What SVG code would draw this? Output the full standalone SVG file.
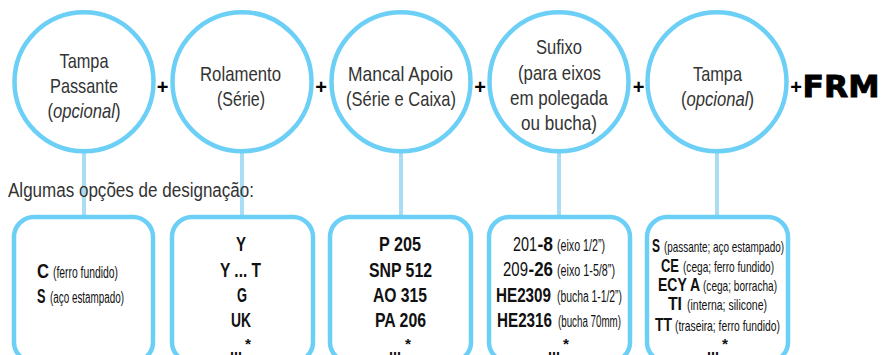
<svg xmlns="http://www.w3.org/2000/svg" width="883" height="355" viewBox="0 0 883 355">
<style>
.c{fill:#fff;stroke:#6CCFF6;stroke-width:4.5}
.ln{stroke:#A9DDF3;stroke-width:4;fill:none}
.t{font-family:"Liberation Sans",Arial,sans-serif;font-size:21px;fill:#333;text-anchor:middle}
.lbl{font-family:"Liberation Sans",Arial,sans-serif;font-size:20px;fill:#333}
.bd{font-family:"Liberation Sans",Arial,sans-serif;font-weight:bold;font-size:20.5px;fill:#111}
.bm{text-anchor:middle}
.b5{font-size:18.5px}
.sm{font-family:"Liberation Sans",Arial,sans-serif;font-size:16px;fill:#111}
.s5{font-size:15px}
.rg{font-family:"Liberation Sans",Arial,sans-serif;font-size:20px;fill:#111}
.ast{font-family:"Liberation Sans",Arial,sans-serif;font-weight:bold;font-size:15px;fill:#111}
.pl{font-family:"Liberation Sans",Arial,sans-serif;font-weight:bold;font-size:20px;fill:#000;text-anchor:middle}
</style>
<g id="connectors">
<line class="ln" x1="84" y1="150" x2="84" y2="218"/>
<line class="ln" x1="242" y1="150" x2="242" y2="218"/>
<line class="ln" x1="401" y1="150" x2="401" y2="218"/>
<line class="ln" x1="559" y1="150" x2="559" y2="218"/>
<line class="ln" x1="717" y1="150" x2="717" y2="218"/>
</g>
<g id="c1"><circle class="c" cx="84" cy="81.7" r="69.5"/>
<text class="t" x="84" y="67.5" textLength="49" lengthAdjust="spacingAndGlyphs">Tampa</text>
<text class="t" x="84" y="93" textLength="68" lengthAdjust="spacingAndGlyphs">Passante</text>
<text class="t" x="84" y="118" textLength="73" lengthAdjust="spacingAndGlyphs">(<tspan font-style="italic">opcional</tspan>)</text>
</g>
<g id="c2"><circle class="c" cx="242" cy="81.7" r="69.5"/>
<text class="t" x="240.5" y="81" textLength="81" lengthAdjust="spacingAndGlyphs">Rolamento</text>
<text class="t" x="241" y="106" textLength="48" lengthAdjust="spacingAndGlyphs">(Série)</text>
</g>
<g id="c3"><circle class="c" cx="401" cy="81.7" r="69.5"/>
<text class="t" x="400.5" y="81" textLength="105" lengthAdjust="spacingAndGlyphs">Mancal Apoio</text>
<text class="t" x="401" y="106" textLength="110" lengthAdjust="spacingAndGlyphs">(Série e Caixa)</text>
</g>
<g id="c4"><circle class="c" cx="559" cy="81.7" r="69.5"/>
<text class="t" x="559" y="54" textLength="46" lengthAdjust="spacingAndGlyphs">Sufixo</text>
<text class="t" x="559.5" y="80" textLength="83" lengthAdjust="spacingAndGlyphs">(para eixos</text>
<text class="t" x="559" y="105" textLength="98" lengthAdjust="spacingAndGlyphs">em polegada</text>
<text class="t" x="559" y="130" textLength="76" lengthAdjust="spacingAndGlyphs">ou bucha)</text>
</g>
<g id="c5"><circle class="c" cx="717" cy="81.7" r="69.5"/>
<text class="t" x="717.5" y="81" textLength="49" lengthAdjust="spacingAndGlyphs">Tampa</text>
<text class="t" x="717.5" y="106" textLength="73" lengthAdjust="spacingAndGlyphs">(<tspan font-style="italic">opcional</tspan>)</text>
</g>
<g id="plus">
<text class="pl" x="162.5" y="94">+</text>
<text class="pl" x="321" y="94">+</text>
<text class="pl" x="480" y="94">+</text>
<text class="pl" x="638.5" y="94">+</text>
<text class="pl" x="796" y="94">+</text>
<text x="802.5" y="97" font-family="'DejaVu Sans',sans-serif" font-weight="bold" font-size="30" fill="#000" stroke="#000" stroke-width="0.9" textLength="77" lengthAdjust="spacingAndGlyphs">FRM</text>
</g>
<text class="lbl" x="8" y="197" textLength="246" lengthAdjust="spacingAndGlyphs">Algumas opções de designação:</text>
<g id="b1"><rect class="c" x="14" y="217" width="139" height="145" rx="20"/>
<text class="bd" x="37" y="278" textLength="12" lengthAdjust="spacingAndGlyphs">C</text>
<text class="sm" x="53" y="278" textLength="65" lengthAdjust="spacingAndGlyphs">(ferro fundido)</text>
<text class="bd" x="37" y="303" textLength="8.5" lengthAdjust="spacingAndGlyphs">S</text>
<text class="sm" x="50" y="303" textLength="74" lengthAdjust="spacingAndGlyphs">(aço estampado)</text>
</g>
<g id="b2"><rect class="c" x="172" y="217" width="141" height="145" rx="20"/>
<text class="bd bm" x="241" y="251" textLength="10" lengthAdjust="spacingAndGlyphs">Y</text>
<text class="bd bm" x="240.5" y="277" textLength="41" lengthAdjust="spacingAndGlyphs">Y ... T</text>
<text class="bd bm" x="242" y="302" textLength="10" lengthAdjust="spacingAndGlyphs">G</text>
<text class="bd bm" x="241" y="327" textLength="20" lengthAdjust="spacingAndGlyphs">UK</text>
<text class="bd" x="230" y="354.5" textLength="12" lengthAdjust="spacingAndGlyphs">...</text>
<text class="ast" x="245" y="349" textLength="6" lengthAdjust="spacingAndGlyphs">*</text>
</g>
<g id="b3"><rect class="c" x="330" y="217" width="141" height="145" rx="20"/>
<text class="bd bm" x="400" y="251" textLength="42" lengthAdjust="spacingAndGlyphs">P 205</text>
<text class="bd bm" x="400.5" y="277" textLength="63" lengthAdjust="spacingAndGlyphs">SNP 512</text>
<text class="bd bm" x="400" y="302" textLength="54" lengthAdjust="spacingAndGlyphs">AO 315</text>
<text class="bd bm" x="400.5" y="327" textLength="51" lengthAdjust="spacingAndGlyphs">PA 206</text>
<text class="bd" x="389" y="354.5" textLength="12" lengthAdjust="spacingAndGlyphs">...</text>
<text class="ast" x="405" y="349" textLength="6" lengthAdjust="spacingAndGlyphs">*</text>
</g>
<g id="b4"><rect class="c" x="489" y="217" width="141" height="145" rx="20"/>
<text class="rg" x="513" y="251" textLength="24" lengthAdjust="spacingAndGlyphs">201</text>
<text class="bd" x="537.5" y="251" textLength="15.5" lengthAdjust="spacingAndGlyphs">-8</text>
<text class="sm" x="557" y="251" textLength="48" lengthAdjust="spacingAndGlyphs">(eixo 1/2”)</text>
<text class="rg" x="503" y="276" textLength="25" lengthAdjust="spacingAndGlyphs">209</text>
<text class="bd" x="528.5" y="276" textLength="24.5" lengthAdjust="spacingAndGlyphs">-26</text>
<text class="sm" x="557" y="276" textLength="58" lengthAdjust="spacingAndGlyphs">(eixo 1-5/8”)</text>
<text class="bd" x="496" y="302" textLength="55" lengthAdjust="spacingAndGlyphs">HE2309</text>
<text class="sm" x="557" y="302" textLength="65" lengthAdjust="spacingAndGlyphs">(bucha 1-1/2”)</text>
<text class="bd" x="497" y="327" textLength="55" lengthAdjust="spacingAndGlyphs">HE2316</text>
<text class="sm" x="558" y="327" textLength="63" lengthAdjust="spacingAndGlyphs">(bucha 70mm)</text>
<text class="bd" x="548" y="354.5" textLength="12" lengthAdjust="spacingAndGlyphs">...</text>
<text class="ast" x="563" y="349" textLength="6" lengthAdjust="spacingAndGlyphs">*</text>
</g>
<g id="b5"><rect class="c" x="647" y="217" width="141" height="145" rx="20"/>
<text class="bd b5" x="652" y="252" textLength="8" lengthAdjust="spacingAndGlyphs">S</text>
<text class="sm s5" x="664" y="252" textLength="120" lengthAdjust="spacingAndGlyphs">(passante; aço estampado)</text>
<text class="bd b5" x="661" y="272" textLength="18" lengthAdjust="spacingAndGlyphs">CE</text>
<text class="sm s5" x="683" y="272" textLength="91" lengthAdjust="spacingAndGlyphs">(cega; ferro fundido)</text>
<text class="bd b5" x="658" y="291" textLength="42" lengthAdjust="spacingAndGlyphs">ECY A</text>
<text class="sm s5" x="703" y="291" textLength="74" lengthAdjust="spacingAndGlyphs">(cega; borracha)</text>
<text class="bd b5" x="668" y="310" textLength="14" lengthAdjust="spacingAndGlyphs">TI</text>
<text class="sm s5" x="687" y="310" textLength="80" lengthAdjust="spacingAndGlyphs">(interna; silicone)</text>
<text class="bd b5" x="655" y="331" textLength="17" lengthAdjust="spacingAndGlyphs">TT</text>
<text class="sm s5" x="675" y="331" textLength="105" lengthAdjust="spacingAndGlyphs">(traseira; ferro fundido)</text>
<text class="bd" x="707" y="354.5" textLength="12" lengthAdjust="spacingAndGlyphs">...</text>
<text class="ast" x="722" y="349" textLength="6" lengthAdjust="spacingAndGlyphs">*</text>
</g>
</svg>
